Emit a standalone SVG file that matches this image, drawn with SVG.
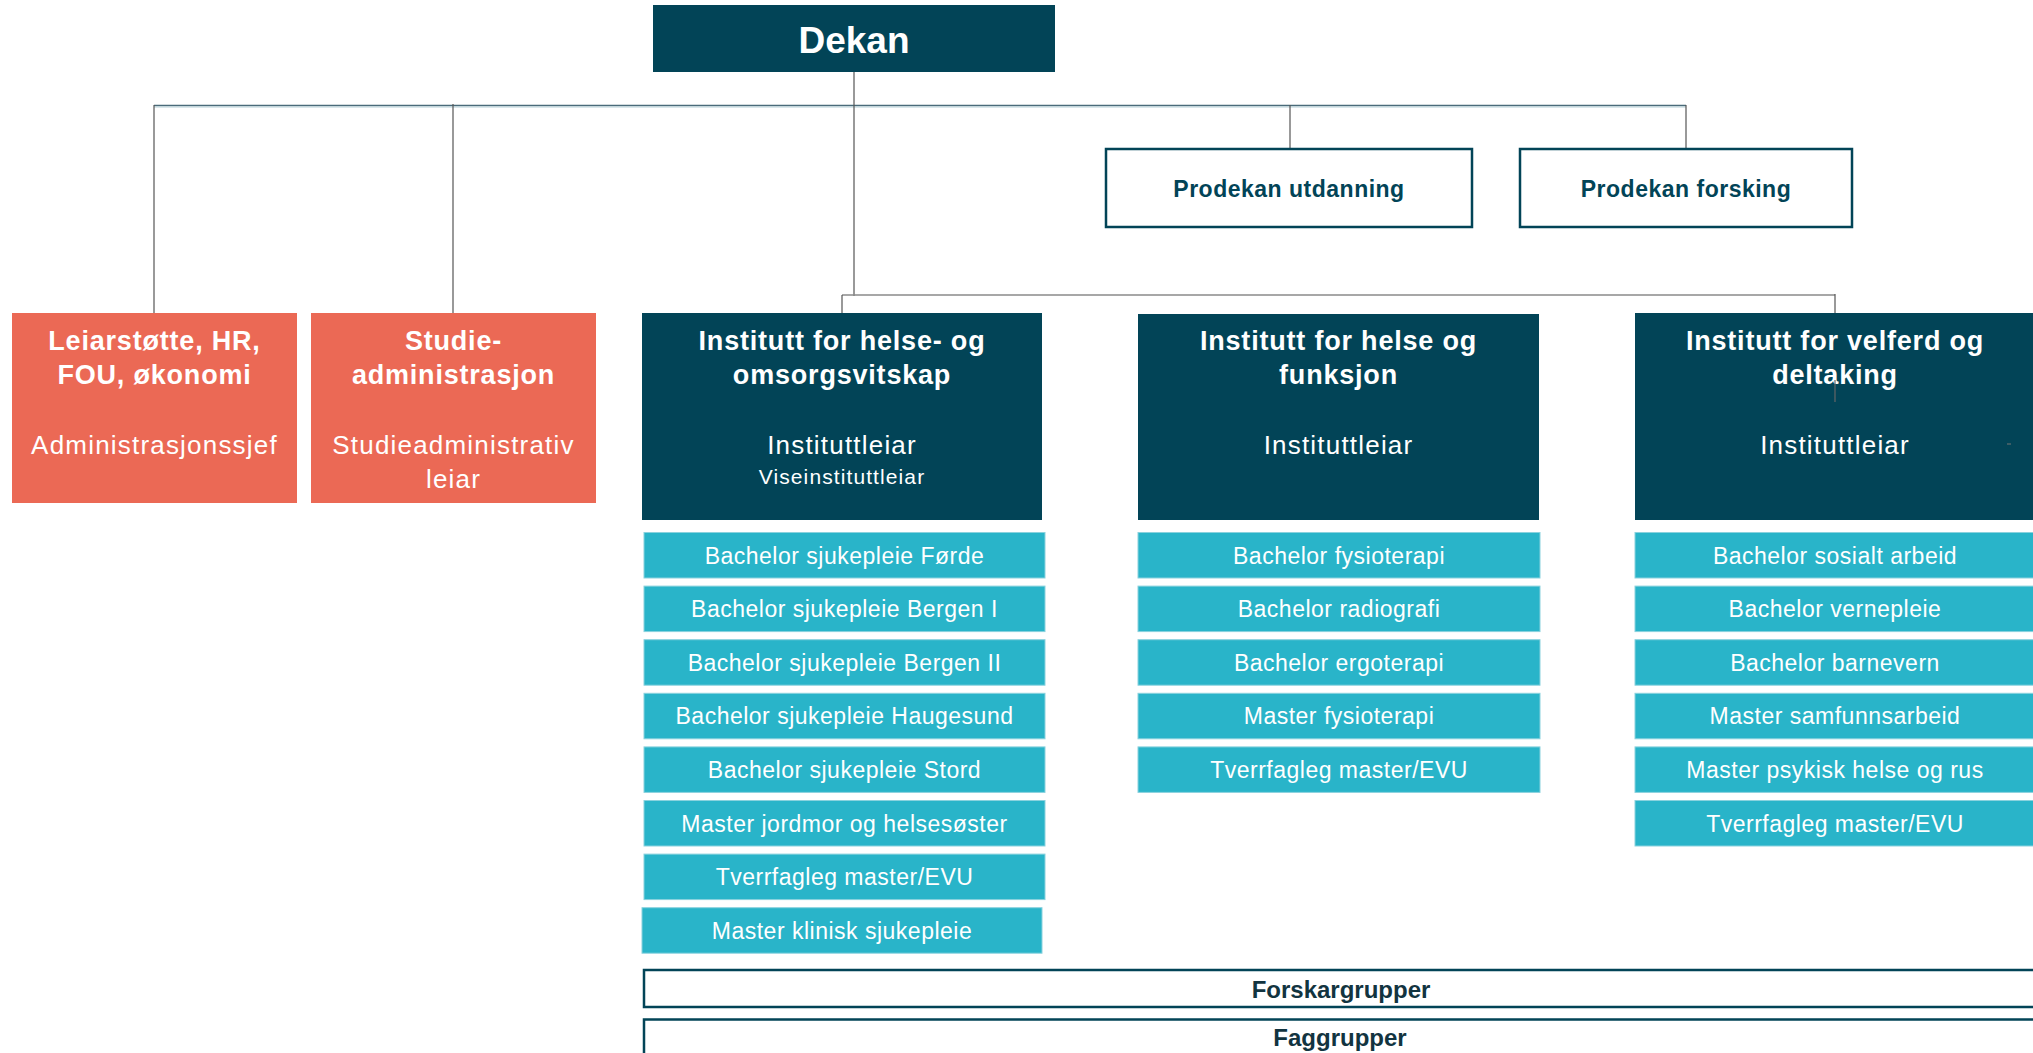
<svg xmlns="http://www.w3.org/2000/svg" width="2033" height="1053" viewBox="0 0 2033 1053">
<style>
text{font-family:"Liberation Sans",Arial,sans-serif;text-anchor:middle}
.dark{fill:#024457}
.orange{fill:#EB6955}
.cyan{fill:#29B4C9;stroke:#8ad2de;stroke-width:1}
.pro{fill:#fff;stroke:#024457;stroke-width:2.5}
.band{fill:#fff;stroke:#024457;stroke-width:2.5}
.title{fill:#fff;font-weight:bold;font-size:27px;letter-spacing:0.8px}
.sub{fill:#fff;font-size:26px;letter-spacing:1.2px}
.vise{fill:#fff;font-size:21px;letter-spacing:1.1px}
.prog{fill:#fff;font-size:23px;letter-spacing:0.5px}
.protxt{fill:#024457;font-weight:bold;font-size:23px;letter-spacing:0.5px}
.bandtxt{fill:#123440;font-weight:bold;font-size:24px}
.ln{fill:none;stroke:#555;stroke-width:1.2}
</style>
<g id="connectors">
<line x1="154" y1="105.5" x2="1686" y2="105.5" stroke="#4a6b7a" stroke-width="1.3"/>
<line x1="154" y1="107" x2="1686" y2="107" stroke="#b5cfd8" stroke-width="1.2"/>
<line class="ln" x1="154" y1="105" x2="154" y2="313" stroke="#1e4e60"/>
<line class="ln" x1="453" y1="104" x2="453" y2="313"/>
<line class="ln" x1="854" y1="72" x2="854" y2="296"/>
<line class="ln" x1="1290" y1="105" x2="1290" y2="149"/>
<line class="ln" x1="1686" y1="105" x2="1686" y2="149"/>
<line x1="842" y1="295" x2="1835" y2="295" stroke="#8a8a8a" stroke-width="1.6"/>
<line class="ln" x1="842" y1="295" x2="842" y2="313"/>
<line class="ln" x1="1835" y1="294" x2="1835" y2="313"/>
</g>
<g id="dekan">
<rect class="dark" x="653" y="5" width="402" height="67"/>
<text x="854" y="53" fill="#fff" font-weight="bold" font-size="37">Dekan</text>
</g>
<g id="prodekan-utdanning">
<rect class="pro" x="1106" y="149" width="366" height="78"/>
<text class="protxt" x="1289" y="197">Prodekan utdanning</text>
</g>
<g id="prodekan-forsking">
<rect class="pro" x="1520" y="149" width="332" height="78"/>
<text class="protxt" x="1686" y="197">Prodekan forsking</text>
</g>
<g id="leiarstotte">
<rect class="orange" x="12" y="313" width="285" height="190"/>
<text class="title" x="154.5" y="350">Leiarstøtte, HR,</text>
<text class="title" x="154.5" y="384">FOU, økonomi</text>
<text class="sub" x="154.5" y="454">Administrasjonssjef</text>
</g>
<g id="studieadministrasjon">
<rect class="orange" x="311" y="313" width="285" height="190"/>
<text class="title" x="453.5" y="350">Studie-</text>
<text class="title" x="453.5" y="384">administrasjon</text>
<text class="sub" x="453.5" y="454">Studieadministrativ</text>
<text class="sub" x="453.5" y="488">leiar</text>
</g>
<g id="inst-helse-omsorg">
<rect class="dark" x="642" y="313" width="400" height="207"/>
<text class="title" x="842" y="350">Institutt for helse- og</text>
<text class="title" x="842" y="384">omsorgsvitskap</text>
<text class="sub" x="842" y="454">Instituttleiar</text>
<text class="vise" x="842" y="484">Viseinstituttleiar</text>
</g>
<g id="inst-helse-funksjon">
<rect class="dark" x="1138" y="314" width="401" height="206"/>
<text class="title" x="1338.5" y="350">Institutt for helse og</text>
<text class="title" x="1338.5" y="384">funksjon</text>
<text class="sub" x="1338.5" y="454">Instituttleiar</text>
</g>
<g id="inst-velferd">
<rect class="dark" x="1635" y="313" width="400" height="207"/>
<text class="title" x="1835" y="350">Institutt for velferd og</text>
<text class="title" x="1835" y="384">deltaking</text>
<text class="sub" x="1835" y="454">Instituttleiar</text>
<line x1="1835" y1="380" x2="1835" y2="402" stroke="#666" stroke-width="1.2"/>
<line x1="2007" y1="444" x2="2011" y2="444" stroke="#777" stroke-width="1"/>
</g>
<g id="prog-col1">
<g id="p1-1"><rect class="cyan" x="644" y="532.5" width="401" height="45.5"/><text class="prog" x="844.5" y="563.5">Bachelor sjukepleie Førde</text></g>
<g id="p1-2"><rect class="cyan" x="644" y="586.1" width="401" height="45.5"/><text class="prog" x="844.5" y="617.1">Bachelor sjukepleie Bergen I</text></g>
<g id="p1-3"><rect class="cyan" x="644" y="639.7" width="401" height="45.5"/><text class="prog" x="844.5" y="670.7">Bachelor sjukepleie Bergen II</text></g>
<g id="p1-4"><rect class="cyan" x="644" y="693.3" width="401" height="45.5"/><text class="prog" x="844.5" y="724.3">Bachelor sjukepleie Haugesund</text></g>
<g id="p1-5"><rect class="cyan" x="644" y="746.9" width="401" height="45.5"/><text class="prog" x="844.5" y="777.9">Bachelor sjukepleie Stord</text></g>
<g id="p1-6"><rect class="cyan" x="644" y="800.5" width="401" height="45.5"/><text class="prog" x="844.5" y="831.5">Master jordmor og helsesøster</text></g>
<g id="p1-7"><rect class="cyan" x="644" y="854.1" width="401" height="45.5"/><text class="prog" x="844.5" y="885.1">Tverrfagleg master/EVU</text></g>
<g id="p1-8"><rect class="cyan" x="642" y="907.7" width="400" height="45.5"/><text class="prog" x="842" y="938.7">Master klinisk sjukepleie</text></g>
</g>
<g id="prog-col2">
<g id="p2-1"><rect class="cyan" x="1138" y="532.5" width="402" height="45.5"/><text class="prog" x="1339" y="563.5">Bachelor fysioterapi</text></g>
<g id="p2-2"><rect class="cyan" x="1138" y="586.1" width="402" height="45.5"/><text class="prog" x="1339" y="617.1">Bachelor radiografi</text></g>
<g id="p2-3"><rect class="cyan" x="1138" y="639.7" width="402" height="45.5"/><text class="prog" x="1339" y="670.7">Bachelor ergoterapi</text></g>
<g id="p2-4"><rect class="cyan" x="1138" y="693.3" width="402" height="45.5"/><text class="prog" x="1339" y="724.3">Master fysioterapi</text></g>
<g id="p2-5"><rect class="cyan" x="1138" y="746.9" width="402" height="45.5"/><text class="prog" x="1339" y="777.9">Tverrfagleg master/EVU</text></g>
</g>
<g id="prog-col3">
<g id="p3-1"><rect class="cyan" x="1635" y="532.5" width="400" height="45.5"/><text class="prog" x="1835" y="563.5">Bachelor sosialt arbeid</text></g>
<g id="p3-2"><rect class="cyan" x="1635" y="586.1" width="400" height="45.5"/><text class="prog" x="1835" y="617.1">Bachelor vernepleie</text></g>
<g id="p3-3"><rect class="cyan" x="1635" y="639.7" width="400" height="45.5"/><text class="prog" x="1835" y="670.7">Bachelor barnevern</text></g>
<g id="p3-4"><rect class="cyan" x="1635" y="693.3" width="400" height="45.5"/><text class="prog" x="1835" y="724.3">Master samfunnsarbeid</text></g>
<g id="p3-5"><rect class="cyan" x="1635" y="746.9" width="400" height="45.5"/><text class="prog" x="1835" y="777.9">Master psykisk helse og rus</text></g>
<g id="p3-6"><rect class="cyan" x="1635" y="800.5" width="400" height="45.5"/><text class="prog" x="1835" y="831.5">Tverrfagleg master/EVU</text></g>
</g>
<g id="forskargrupper">
<rect class="band" x="644" y="970" width="1420" height="37"/>
<text class="bandtxt" x="1341" y="998">Forskargrupper</text>
</g>
<g id="faggrupper">
<rect class="band" x="644" y="1019.5" width="1420" height="60"/>
<text class="bandtxt" x="1340" y="1046">Faggrupper</text>
</g>
</svg>
